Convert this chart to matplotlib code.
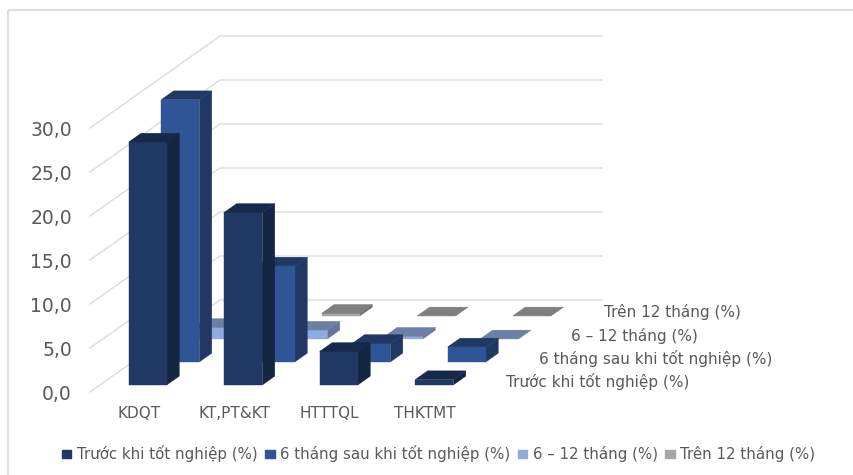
import matplotlib.pyplot as plt
from matplotlib.patches import Polygon, Patch

categories = ['KDQT', 'KT,PT&KT', 'HTTTQL', 'THKTMT']
series_names = ['Trước khi tốt nghiệp (%)', '6 tháng sau khi tốt nghiệp (%)',
                '6 – 12 tháng (%)', 'Trên 12 tháng (%)']

truoc = [27.6, 19.6, 3.8, 0.6]
sau_6 = [29.8, 10.9, 2.1, 1.7]
tu_6_12 = [1.3, 1.0, 0.3, 0.0]
tren_12 = [0.0, 0.3, 0.0, 0.0]
values = [truoc, sau_6, tu_6_12, tren_12]

y_ticks = [0, 5, 10, 15, 20, 25, 30]

front_colors = ['#1F3864', '#2F5597', '#8FAADC', '#A5A5A5']
top_colors = ['#17294A', '#203864', '#6C80A6', '#7F7F7F']
side_colors = ['#152642', '#1F3864', '#64769E', '#6E6E6E']
grid_color = '#DEDEDE'
text_color = '#595959'

# oblique projection of (category, depth, value) to figure pixels
x0, y0 = 90.0, 392.0
cat_w = 95.5
dep_x, dep_y = 32.5, 23.0
unit = 8.8


def proj(c, d, v):
    return (x0 + cat_w * c + dep_x * d, y0 - unit * v - dep_y * d)


fig = plt.figure(figsize=(8.54, 4.75), dpi=100)
ax = fig.add_axes([0, 0, 1, 1])
ax.set_xlim(0, 854)
ax.set_ylim(475, 0)
ax.axis('off')

# chart frame, only top and left are there
ax.plot([8, 8], [476, 10], color=grid_color, lw=1.6, zorder=0, solid_capstyle='butt')
ax.plot([8, 856], [10, 10], color=grid_color, lw=1.6, zorder=0, solid_capstyle='butt')

n_cat = len(categories)
n_dep = len(values)

# walls
for t in y_ticks:
    a = proj(0, 0, t)
    b = proj(0, n_dep, t)
    c = proj(n_cat, n_dep, t)
    ax.plot([a[0], b[0], c[0]], [a[1], b[1], c[1]], color=grid_color, lw=1.1, zorder=0)
    ax.text(a[0] - 18, a[1] + 2, ('%.1f' % t).replace('.', ','), ha='right', va='center',
            fontsize=13.5, color=text_color)


def draw_bar(i, s, v):
    c1, c2 = i + 0.3, i + 0.7
    d1, d2 = s + 0.31, s + 0.69
    top = [proj(c1, d1, v), proj(c2, d1, v), proj(c2, d2, v), proj(c1, d2, v)]
    side = [proj(c2, d1, 0), proj(c2, d2, 0), proj(c2, d2, v), proj(c2, d1, v)]
    front = [proj(c1, d1, 0), proj(c2, d1, 0), proj(c2, d1, v), proj(c1, d1, v)]
    ax.add_patch(Polygon(side, closed=True, fc=side_colors[s], ec=side_colors[s], lw=0.3))
    ax.add_patch(Polygon(front, closed=True, fc=front_colors[s], ec=front_colors[s], lw=0.3))
    ax.add_patch(Polygon(top, closed=True, fc=top_colors[s], ec=top_colors[s], lw=0.3))


# back rows first so the front ones cover them
for s in range(n_dep - 1, -1, -1):
    for i in range(n_cat - 1, -1, -1):
        draw_bar(i, s, values[s][i])

for i, name in enumerate(categories):
    px, py = proj(i + 0.5, 0, 0)
    ax.text(px + 1, py + 21, name, ha='center', va='center', fontsize=11, color=text_color)

for s, name in enumerate(series_names):
    px, py = proj(n_cat, s + 0.5, 0)
    ax.text(px + 18, py + 1, name, ha='left', va='center', fontsize=11, color=text_color)

handles = [Patch(color=col, label=name) for col, name in zip(front_colors, series_names)]
fig.legend(handles=handles, loc='center', bbox_to_anchor=(438.5 / 854, 1 - 454 / 475), ncol=4,
           frameon=False, fontsize=10.8, labelcolor=text_color, handlelength=0.65,
           handleheight=0.45, handletextpad=0.35, columnspacing=0.5, borderpad=0)

fig.savefig('out.png', dpi=100)
